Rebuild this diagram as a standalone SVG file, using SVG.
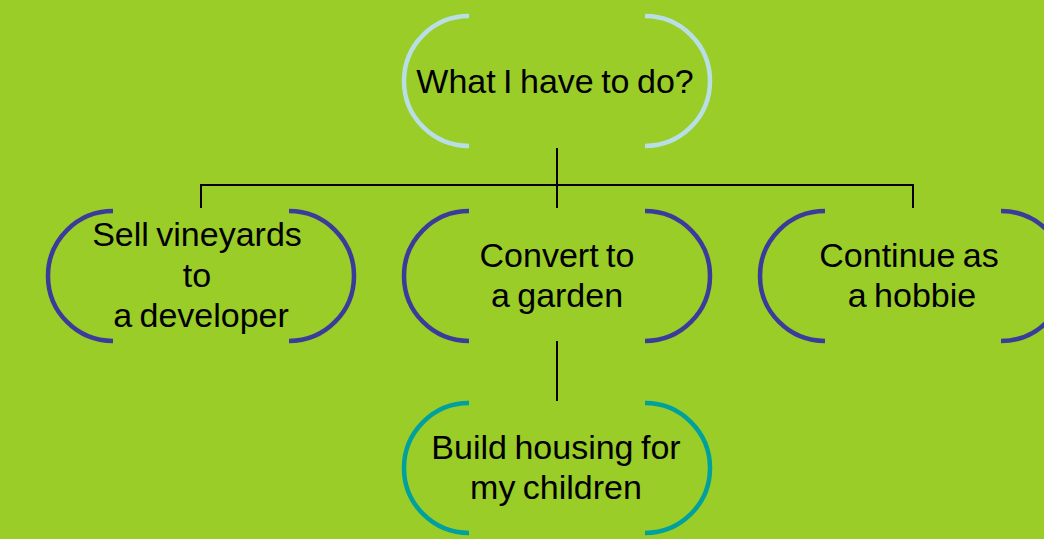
<svg xmlns="http://www.w3.org/2000/svg" width="1044" height="539" viewBox="0 0 1044 539">
<style>
.t{font-family:"Liberation Sans",Arial,sans-serif;font-size:34px;fill:#000;text-anchor:middle;word-spacing:-2px}
.b{fill:none;stroke-width:4.5}
.top{stroke:#b8dee6}
.mid{stroke:#3b3b9c}
.bot{stroke:#00a09f}
.c{fill:none;stroke:#000;stroke-width:2}
</style>
<rect width="1044" height="539" fill="#9acd28"/>
<g id="connectors">
<path class="c" d="M557,148 V185 M201,185 H913 M201,184 V208 M557,185 V208 M913,184 V208 M557,341 V401"/>
</g>
<g id="n-top">
<path class="b top" d="M469,16 A65,65 0 0 0 469,146 M645,16 A65,65 0 0 1 645,146"/>
<text class="t" x="555" y="93">What I have to do?</text>
</g>
<g id="n-sell">
<path class="b mid" d="M113,211 A65,65 0 0 0 113,341 M289,211 A65,65 0 0 1 289,341"/>
<text class="t" x="197" y="246">Sell vineyards</text>
<text class="t" x="197" y="287">to</text>
<text class="t" x="201" y="327">a developer</text>
</g>
<g id="n-convert">
<path class="b mid" d="M469,211 A65,65 0 0 0 469,341 M645,211 A65,65 0 0 1 645,341"/>
<text class="t" x="557" y="267">Convert to</text>
<text class="t" x="557" y="307">a garden</text>
</g>
<g id="n-continue">
<path class="b mid" d="M825,211 A65,65 0 0 0 825,341 M1001,211 A65,65 0 0 1 1001,341"/>
<text class="t" x="909" y="267">Continue as</text>
<text class="t" x="912" y="307">a hobbie</text>
</g>
<g id="n-build">
<path class="b bot" d="M469,403 A65,65 0 0 0 469,533 M645,403 A65,65 0 0 1 645,533"/>
<text class="t" x="556" y="459">Build housing for</text>
<text class="t" x="556" y="499">my children</text>
</g>
</svg>
